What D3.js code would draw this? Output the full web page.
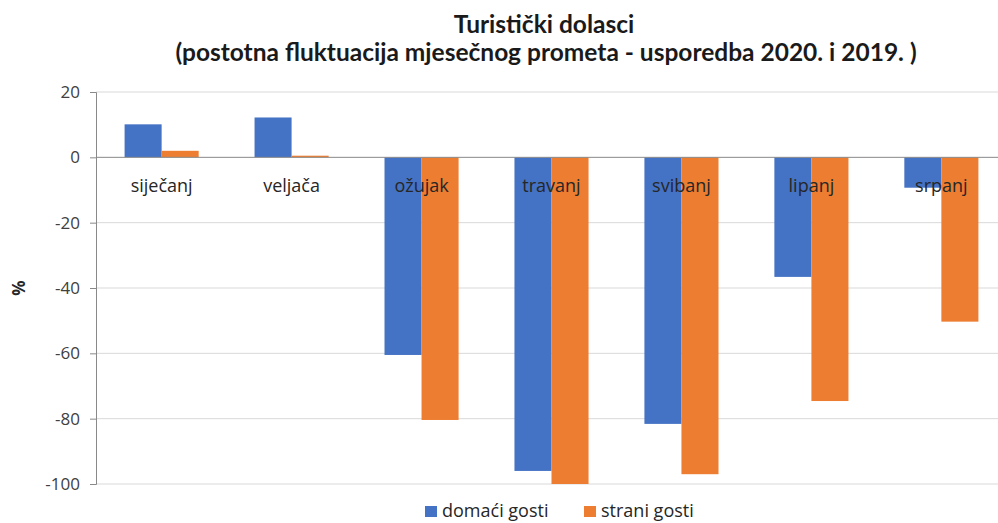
<!DOCTYPE html>
<html>
<head>
<meta charset="utf-8">
<script src="https://cdn.jsdelivr.net/npm/d3@7"></script>
<style>
  body { margin: 0; background: #fff; overflow: hidden; }
  text { font-family: "Open Sans", "DejaVu Sans", sans-serif; }
</style>
</head>
<body>
<div id="chart-area"></div>
<script>
// Data
var months = ["siječanj", "veljača", "ožujak", "travanj", "svibanj", "lipanj", "srpanj"];
var domaci = [10.1, 12.2, -60.5, -96, -81.6, -36.6, -9.3];
var strani = [2, 0.5, -80.4, -100, -97, -74.6, -50.3];
var yTicks = [20, 0, -20, -40, -60, -80, -100];
var seriesNames = ["domaći gosti", "strani gosti"];
var colors = ["#4472c4", "#ed7d31"];

// plot area runs past the right edge of the picture (cropped in the original)
var margin = { left: 96, top: 92 },
  width = 911,
  height = 392;

var svg = d3.select("#chart-area")
  .append("svg")
  .attr("width", 998)
  .attr("height", 523);

var g = svg.append("g")
  .attr("transform", "translate(" + margin.left + "," + margin.top + ")");

// Scales
var x = d3.scaleBand().domain(months).range([0, width]).paddingInner(0.43).paddingOuter(0.22);
var xSub = d3.scaleBand().domain([0, 1]).range([0, x.bandwidth()]);
var y = d3.scaleLinear().domain([-100, 20]).range([height, 0]);

// Gridlines
g.selectAll(".grid")
  .data(yTicks.filter(function(d) { return d !== 0; }))
  .enter().append("line")
  .attr("x1", 0).attr("x2", width)
  .attr("y1", function(d) { return y(d); })
  .attr("y2", function(d) { return y(d); })
  .attr("stroke", "#d9d9d9")
  .attr("stroke-width", 1);

// Bars
var rows = months.map(function(m, i) { return { month: m, vals: [domaci[i], strani[i]] }; });
var groups = g.selectAll(".month")
  .data(rows)
  .enter().append("g")
  .attr("transform", function(d) { return "translate(" + x(d.month) + ",0)"; });

groups.selectAll("rect")
  .data(function(d) { return d.vals; })
  .enter().append("rect")
  .attr("x", function(d, i) { return xSub(i); })
  .attr("width", xSub.bandwidth())
  .attr("y", function(d) { return y(Math.max(0, d)); })
  .attr("height", function(d) { return Math.abs(y(d) - y(0)); })
  .attr("fill", function(d, i) { return colors[i]; });

// Zero line
g.append("line")
  .attr("x1", 0).attr("x2", width)
  .attr("y1", y(0)).attr("y2", y(0))
  .attr("stroke", "#898989")
  .attr("stroke-width", 1);

// Y axis
var yAxis = g.append("g")
  .call(d3.axisLeft(y).tickValues(yTicks).tickSize(6).tickPadding(10)
    .tickFormat(function(d) { return String(d); }));
yAxis.select(".domain").attr("stroke", "#898989");
yAxis.selectAll(".tick line").attr("stroke", "#898989");
yAxis.selectAll("text")
  .attr("font-size", "17px")
  .attr("fill", "#404040")
  .style("font-family", "'Open Sans', sans-serif");

// Category labels
g.selectAll(".xlabel")
  .data(months)
  .enter().append("text")
  .attr("x", function(d) { return x(d) + x.bandwidth() / 2; })
  .attr("y", y(0) + 35)
  .attr("text-anchor", "middle")
  .attr("font-size", "18px")
  .attr("fill", "#262626")
  .text(function(d) { return d; });

// Y label
svg.append("text")
  .attr("transform", "translate(25," + (margin.top + y(-40)) + ") rotate(-90)")
  .attr("text-anchor", "middle")
  .attr("font-size", "17px")
  .attr("font-weight", "bold")
  .attr("fill", "#262626")
  .text("%");

// Title
var title = svg.append("text")
  .attr("text-anchor", "middle")
  .attr("font-size", "24.5px")
  .attr("font-weight", "bold")
  .attr("fill", "#1a1a1a")
  .style("font-family", "Lato, 'Open Sans', sans-serif");
title.append("tspan").attr("x", 544).attr("y", 33).text("Turistički dolasci");
title.append("tspan").attr("x", 546).attr("y", 61).text("(postotna fluktuacija mjesečnog prometa - usporedba 2020. i 2019. )");

// Legend
var legendX = [425, 584];
var legend = svg.selectAll(".legend")
  .data(seriesNames)
  .enter().append("g")
  .attr("transform", function(d, i) { return "translate(" + legendX[i] + ",506)"; });
legend.append("rect")
  .attr("width", 12).attr("height", 11)
  .attr("fill", function(d, i) { return colors[i]; });
legend.append("text")
  .attr("x", 17).attr("y", 11)
  .attr("font-size", "18px")
  .attr("fill", "#262626")
  .text(function(d) { return d; });
</script>
</body>
</html>
